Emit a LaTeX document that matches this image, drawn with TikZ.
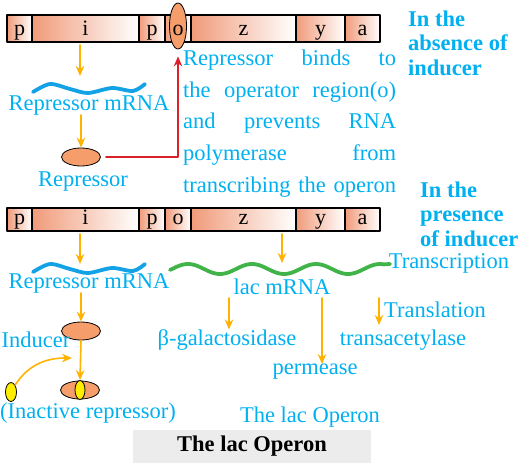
\documentclass[tikz,border=0pt]{standalone}
\usepackage{fontspec}
\setmainfont{Liberation Serif}
\usetikzlibrary{positioning,shapes.geometric,arrows.meta}
\definecolor{skyc}{RGB}{0,176,240}
\definecolor{segl}{RGB}{240,155,122}
\definecolor{opc}{RGB}{245,158,108}
\definecolor{amber}{RGB}{255,178,0}
\definecolor{leaf}{RGB}{64,180,72}
\definecolor{wavec}{RGB}{20,162,230}
\definecolor{redl}{RGB}{218,32,40}
\definecolor{capgray}{RGB}{236,236,236}
\definecolor{yel}{RGB}{255,238,0}
\begin{document}
\begin{tikzpicture}[x=1pt,y=-1pt,font=\fontsize{22.5}{25}\selectfont, line join=round, line cap=round, >={Stealth[length=10pt,width=8.5pt]},
  txt/.style={text=skyc,inner sep=0pt},
  para/.style={txt,anchor=west},
  head/.style={txt,font=\fontsize{22.5}{24.5}\selectfont\bfseries,align=left,anchor=west},
  oarrow/.style={->,draw=amber,line width=1.6pt},
  blob/.style={ellipse,draw,fill=opc,line width=0.8pt,inner sep=0pt,minimum width=39pt,minimum height=18pt},
  yblob/.style={ellipse,draw,fill=yel,line width=0.8pt,inner sep=0pt,minimum width=11pt,minimum height=19pt},
  mrna/.style={line width=3.8pt,draw=wavec}]
\useasboundingbox (0,0) rectangle (526,463);
% gene bars
\foreach \a/\b in {7/32,32/139,139/165,165/191,191/296,296/345,345/380}{
  \shade[left color=segl,right color=white](\a,15) rectangle(\b,42);
  \draw[line width=1.4pt](\a,15) rectangle(\b,42);
  \shade[left color=segl,right color=white](\a,208) rectangle(\b,231);
  \draw[line width=1.4pt](\a,208) rectangle(\b,231);
}
\node[ellipse,draw,fill=opc,line width=0.8pt,inner sep=0pt,minimum width=17pt,minimum height=46pt] (op) at (178,26) {};
\foreach \a/\b/\t [count=\n] in {7/32/p,32/139/i,139/165/p,165/191/o,191/296/z,296/345/y,345/380/a}{
  \node[anchor=base,inner sep=0pt,font=\fontsize{22}{22}\selectfont] (ga\n) at ({(\a+\b)/2},35) {\t};
  \node[anchor=base,inner sep=0pt,font=\fontsize{22}{22}\selectfont] (gb\n) at ({(\a+\b)/2},224) {\t};
}
% absence of inducer
\node[head] (h1) at (408,43) {In the\\absence of\\inducer};
\draw[mrna] plot[smooth] coordinates {(33,92) (50,84) (70,89) (88,93) (112,88) (133,91) (145,84)};
\node[txt] (rm1) at (89,105) {Repressor mRNA};
\node[blob] (rep1) at (81,157) {};
\node[txt] (rl1) at (83,182) {Repressor};
\coordinate (ib1) at (80,45);
\coordinate (wt1) at (80,76);
\path (183,60) node[para](t1){\makebox[213pt][s]{Repressor binds to}}
  ++(0,31.7) node[para](t2){\makebox[213pt][s]{the operator region(o)}}
  ++(0,31.7) node[para](t3){\makebox[213pt][s]{and prevents RNA}}
  ++(0,31.7) node[para](t4){\makebox[213pt][s]{polymerase from}}
  ++(0,31.7) node[para](t5){\makebox[213pt][s]{transcribing the operon}};
\draw[oarrow](ib1)--(wt1);
\draw[oarrow](rep1.north |- rm1.south)--(rep1.north);
\draw[->,draw=redl,line width=1.4pt,shorten <=5pt,shorten >=7pt](rep1.east)-|(op.south);
% presence of inducer
\node[head] (h2) at (420,214) {In the\\presence\\of inducer};
\draw[mrna,shift={(0,180)}] plot[smooth] coordinates {(33,92) (50,84) (70,89) (88,93) (112,88) (133,91) (145,84)};
\draw[line width=3.8pt,draw=leaf] plot[domain=170:384,samples=90,smooth] (\x,{269-5*sin((\x-172)*5.625)}) -- (390,264);
\node[txt] (rm2) at (89,283) {Repressor mRNA};
\node[txt] (lm) at (282,287) {lac mRNA};
\node[txt] (tc) at (449,263) {Transcription};
\node[txt] (tl) at (435,310) {Translation};
\node[blob] (rep2) at (81,331) {};
\node[txt] (ind) at (36,340) {Inducer};
\node[blob] (rep3) at (80,390) {};
\node[yblob,minimum width=10pt] (yel2) at (80,390) {};
\node[yblob] (yel1) at (11,392) {};
\node[txt] (inr) at (88,413) {(Inactive repressor)};
\node[txt] (bg) at (227,340) {β-galactosidase};
\node[txt] (pm) at (315,372) {permease};
\node[txt] (ta) at (403,340) {transacetylase};
\node[txt] (lo) at (310,417) {The lac Operon};
\node[fill=capgray,minimum width=238pt,minimum height=33pt,inner sep=0pt,font=\fontsize{22.5}{25}\selectfont\bfseries] (cap) at (252,446.5) {The lac Operon};
\coordinate (ib2) at (80,234);
\coordinate (wt2) at (80,264);
\coordinate (zb) at (282,234);
\coordinate (gt) at (282,263);
\coordinate (cv) at (72,358);
\coordinate (s1) at (229,298);
\coordinate (s2) at (322,298);
\coordinate (s3) at (379,298);
\coordinate (e3) at (379,325);
\draw[oarrow](ib2)--(wt2);
\draw[oarrow](zb)--(gt);
\draw[oarrow](rep2.north |- rm2.south)--(rep2.north);
\draw[oarrow](rep2.south)--(yel2.north);
\draw[oarrow](yel1.north east) .. controls (30,362) and (50,358) .. (cv);
\draw[oarrow](s1)--(s1 |- bg.north);
\draw[oarrow](s2)--(s2 |- pm.north);
\draw[oarrow](s3)--(e3);
\end{tikzpicture}
\end{document}
